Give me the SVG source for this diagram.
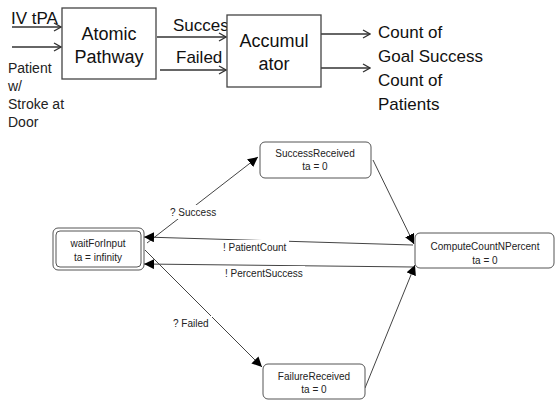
<svg xmlns="http://www.w3.org/2000/svg" width="555" height="401" viewBox="0 0 555 401">
<style>
.big{font-family:"Liberation Sans",Arial,sans-serif;font-size:17px;fill:#111}
.bx{font-family:"Liberation Sans",Arial,sans-serif;font-size:18px;fill:#111}
.mid{font-family:"Liberation Sans",Arial,sans-serif;font-size:14px;fill:#222}
.sm{font-family:"Liberation Sans",Arial,sans-serif;font-size:10px;fill:#222}
.box{fill:#fff;stroke:#444;stroke-width:1.3}
.st{fill:#fff;stroke:#555;stroke-width:1}
.ln{stroke:#333;stroke-width:1.3;fill:none}
.tl{stroke:#444;stroke-width:1;fill:none}
</style>
<defs>
<marker id="open" viewBox="0 0 10 10" refX="9" refY="5" markerWidth="10" markerHeight="10" markerUnits="userSpaceOnUse" orient="auto">
<polyline points="2,1 9,5 2,9" fill="none" stroke="#333" stroke-width="1.3"/>
</marker>
<marker id="tri" viewBox="0 0 10 10" refX="10" refY="5" markerWidth="10" markerHeight="10" markerUnits="userSpaceOnUse" orient="auto">
<path d="M0,0 L10,5 L0,10 Z" fill="#000"/>
</marker>
</defs>

<g id="connectors">
<line class="ln" x1="12" y1="27" x2="61" y2="27" marker-end="url(#open)"/>
<line class="ln" x1="12" y1="47" x2="61" y2="47" marker-end="url(#open)"/>
<line class="ln" x1="157" y1="37" x2="226" y2="37" marker-end="url(#open)"/>
<line class="ln" x1="160" y1="70" x2="226" y2="70" marker-end="url(#open)"/>
<line class="ln" x1="321" y1="34" x2="370" y2="34" marker-end="url(#open)"/>
<line class="ln" x1="321" y1="68" x2="370" y2="68" marker-end="url(#open)"/>

<line class="tl" x1="147" y1="243" x2="258" y2="157" marker-end="url(#tri)"/>
<line class="tl" x1="373" y1="160" x2="414" y2="244" marker-end="url(#tri)"/>
<line class="tl" x1="413" y1="245" x2="144" y2="237" marker-end="url(#tri)"/>
<line class="tl" x1="413" y1="267" x2="144" y2="264" marker-end="url(#tri)"/>
<line class="tl" x1="145" y1="250" x2="262" y2="367" marker-end="url(#tri)"/>
<line class="tl" x1="365" y1="388" x2="415" y2="265" marker-end="url(#tri)"/>

<rect x="169" y="205" width="54" height="14" fill="#fff"/>
<text class="sm" x="170" y="216">? Success</text>
<rect x="221" y="240" width="68" height="14" fill="#fff"/>
<text class="sm" x="223" y="251">! PatientCount</text>
<rect x="223" y="266" width="82" height="14" fill="#fff"/>
<text class="sm" x="225" y="277">! PercentSuccess</text>
<rect x="172" y="316" width="40" height="14" fill="#fff"/>
<text class="sm" x="173" y="327">? Failed</text>
</g>

<g id="labels-top">
<text class="big" x="11" y="24">IV tPA</text>
<text class="mid" x="8" y="73">Patient</text>
<text class="mid" x="8" y="91">w/</text>
<text class="mid" x="8" y="109">Stroke at</text>
<text class="mid" x="8" y="127">Door</text>
<text class="big" x="173" y="31">Succes</text>
<text class="big" x="176" y="63">Failed</text>
<text class="big" x="378" y="38">Count of</text>
<text class="big" x="378" y="62">Goal Success</text>
<text class="big" x="378" y="86">Count of</text>
<text class="big" x="378" y="110">Patients</text>
</g>

<g id="atomic-pathway">
<rect class="box" x="62" y="8" width="94" height="71"/>
<text class="bx" x="109" y="40" text-anchor="middle">Atomic</text>
<text class="bx" x="109" y="63" text-anchor="middle">Pathway</text>
</g>

<g id="accumulator">
<rect class="box" x="227" y="15" width="94" height="72"/>
<text class="bx" x="274" y="47" text-anchor="middle">Accumul</text>
<text class="bx" x="274" y="70" text-anchor="middle">ator</text>
</g>

<g id="waitForInput">
<rect class="st" x="53" y="228" width="91" height="42" rx="5"/>
<rect class="st" x="56" y="231" width="85" height="36" rx="4"/>
<text class="sm" x="98" y="247" text-anchor="middle">waitForInput</text>
<text class="sm" x="98" y="261" text-anchor="middle">ta = infinity</text>
</g>

<g id="SuccessReceived">
<rect class="st" x="260" y="142" width="111" height="36" rx="5"/>
<text class="sm" x="315" y="157" text-anchor="middle">SuccessReceived</text>
<text class="sm" x="315" y="170" text-anchor="middle">ta = 0</text>
</g>

<g id="ComputeCountNPercent">
<rect class="st" x="415" y="233" width="139" height="35" rx="5"/>
<text class="sm" x="485" y="250" text-anchor="middle">ComputeCountNPercent</text>
<text class="sm" x="485" y="264" text-anchor="middle">ta = 0</text>
</g>

<g id="FailureReceived">
<rect class="st" x="263" y="364" width="102" height="35" rx="5"/>
<text class="sm" x="314" y="380" text-anchor="middle">FailureReceived</text>
<text class="sm" x="314" y="393" text-anchor="middle">ta = 0</text>
</g>
</svg>
